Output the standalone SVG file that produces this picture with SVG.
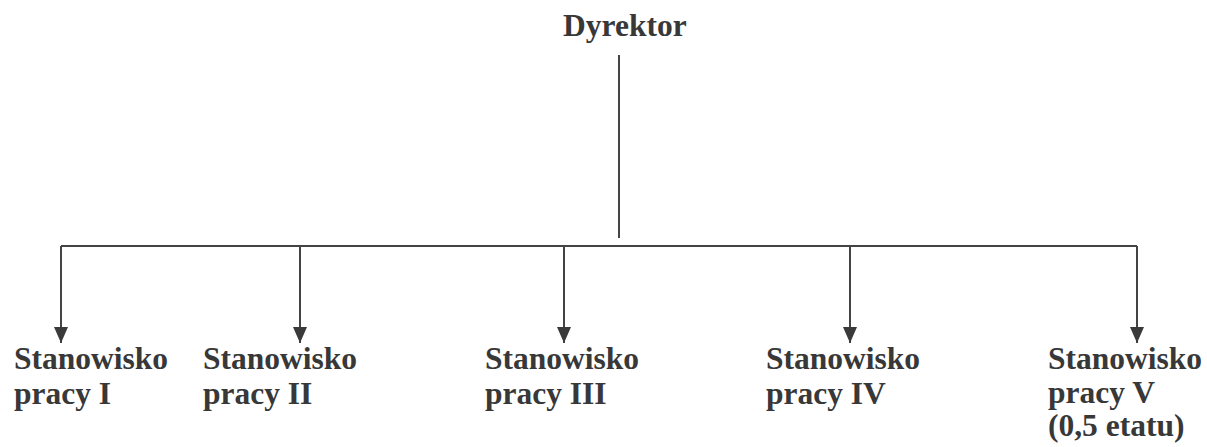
<svg xmlns="http://www.w3.org/2000/svg" width="1207" height="447" viewBox="0 0 1207 447">
<style>
.t{font-family:"Liberation Serif","Times New Roman",serif;font-weight:bold;font-size:31.5px;fill:#383838}
.c{stroke:#444;stroke-width:2;fill:none}
</style>
<defs>
<marker id="ah" viewBox="0 0 16 14" refX="16" refY="7" markerWidth="16" markerHeight="14" markerUnits="userSpaceOnUse" orient="auto">
<path d="M0,0 L16,7 L0,14 Z" fill="#3a3a3a"/>
</marker>
</defs>
<rect width="1207" height="447" fill="#fff"/>
<g id="connectors">
<line class="c" x1="619" y1="55" x2="619" y2="238"/>
<line class="c" x1="61" y1="246" x2="1137" y2="246"/>
<line class="c" x1="61" y1="246" x2="61" y2="343" marker-end="url(#ah)"/>
<line class="c" x1="300" y1="246" x2="300" y2="343" marker-end="url(#ah)"/>
<line class="c" x1="564" y1="246" x2="564" y2="343" marker-end="url(#ah)"/>
<line class="c" x1="850" y1="246" x2="850" y2="343" marker-end="url(#ah)"/>
<line class="c" x1="1137" y1="246" x2="1137" y2="343" marker-end="url(#ah)"/>
</g>
<g id="dyrektor"><text class="t" x="563" y="36">Dyrektor</text></g>
<g id="st1"><text class="t" x="14" y="369">Stanowisko</text><text class="t" x="14" y="404">pracy I</text></g>
<g id="st2"><text class="t" x="203" y="369">Stanowisko</text><text class="t" x="203" y="404">pracy II</text></g>
<g id="st3"><text class="t" x="485" y="369">Stanowisko</text><text class="t" x="485" y="404">pracy III</text></g>
<g id="st4"><text class="t" x="766" y="369">Stanowisko</text><text class="t" x="766" y="404">pracy IV</text></g>
<g id="st5"><text class="t" x="1048" y="369">Stanowisko</text><text class="t" x="1048" y="403">pracy V</text><text class="t" x="1048" y="436">(0,5 etatu)</text></g>
</svg>
